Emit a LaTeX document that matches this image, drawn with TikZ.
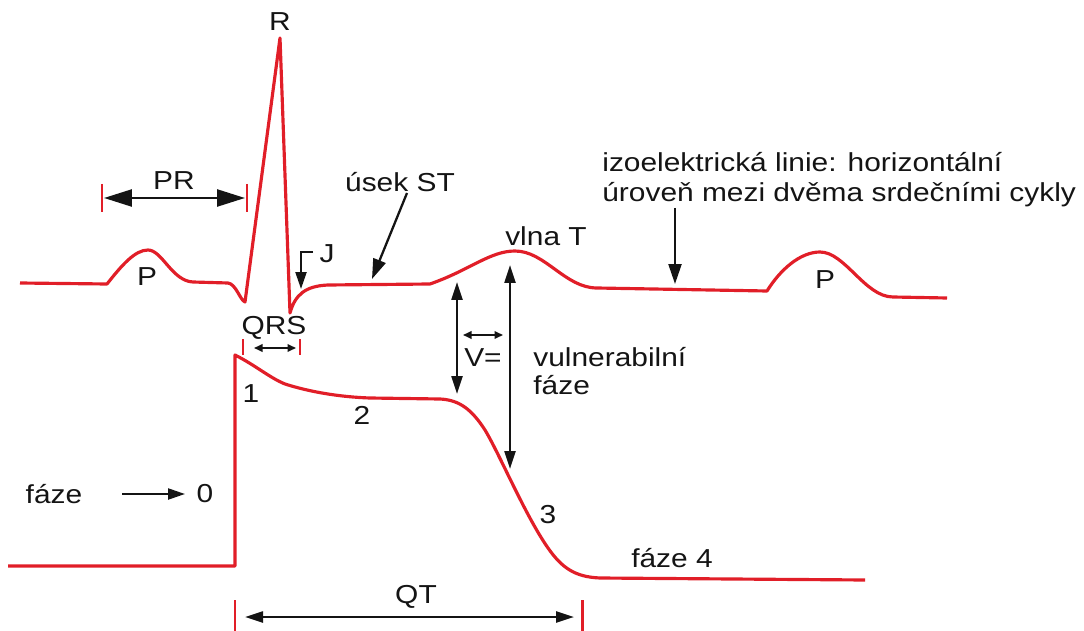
\documentclass[tikz,border=0pt]{standalone}
\usepackage{fontspec}
\setmainfont{Liberation Sans}[FakeStretch=1.15]
\usetikzlibrary{arrows.meta,positioning}
\definecolor{ecgred}{RGB}{225,30,40}
\definecolor{inkblack}{RGB}{20,20,20}
\tikzset{
  lbl/.style={inner sep=0pt,font=\fontsize{14.8}{17}\selectfont,text=inkblack},
  ecgline/.style={draw=ecgred,line width=1.8pt,line join=round},
  tickmark/.style={draw=ecgred,line width=1.7pt},
  bigarr/.style={{Triangle[length=0.56cm,width=0.34cm]}-{Triangle[length=0.56cm,width=0.34cm]},line width=1.4pt,color=inkblack},
  arr/.style={-{Triangle[length=0.4cm,width=0.26cm]},line width=1.3pt,color=inkblack},
  dblarr/.style={{Triangle[length=0.36cm,width=0.22cm]}-{Triangle[length=0.36cm,width=0.22cm]},line width=1.3pt,color=inkblack},
  tinyarr/.style={{Triangle[length=0.17cm,width=0.15cm]}-{Triangle[length=0.17cm,width=0.15cm]},line width=1pt,color=inkblack}
}

\begin{document}
\begin{tikzpicture}[x=0.02cm,y=-0.02cm]
  \useasboundingbox (0,0) rectangle (1084,631);

  %% ECG TRACE
  \draw[ecgline] (20,283) -- (107,284) .. controls (122,265) and (135,250) .. (148,250)
    .. controls (162,250) and (172,281) .. (193,282) -- (228,283)
    .. controls (236,284) and (240,300) .. (245,302) -- (280,38) -- (290,313)
    .. controls (295,295) and (305,286) .. (328,285) -- (430,284)
    .. controls (470,270) and (490,251) .. (515,251)
    .. controls (545,251) and (565,288) .. (597,288) -- (767,291)
    .. controls (780,270) and (800,252) .. (820,252)
    .. controls (845,252) and (865,297) .. (893,297) -- (947,298);

  %% ACTION POTENTIAL
  \draw[ecgline] (8,566) -- (235,566) -- (235,355)
    .. controls (255,365) and (270,378) .. (285,384)
    .. controls (310,392) and (340,397) .. (370,398) -- (440,399)
    .. controls (460,400) and (472,410) .. (485,430)
    .. controls (500,455) and (525,515) .. (548,548)
    .. controls (562,568) and (575,577) .. (600,578) -- (865,580);

  %% LABELS
  \node[lbl] (rlbl) at (280,22) {R};
  \node[lbl] (prlbl) at (174,181) {PR};
  \node[lbl] (p1lbl) at (147,277) {P};
  \node[lbl] (jlbl) at (327,254) {J};
  \node[lbl] (qrslbl) at (274,328) {QRS};
  \node[lbl] (stlbl) at (400,182) {úsek ST};
  \node[lbl] (tlbl) at (546,236) {vlna T};
  \node[lbl,align=left,anchor=west]
    (izolbl) at (602,180) {izoelektrická linie: horizontální\\úroveň mezi dvěma srdečními cykly};
  \node[lbl] (p2lbl) at (825,280) {P};
  \node[lbl] (vlbl) at (483,358) {V=};
  \node[lbl,align=left,anchor=west,font=\fontsize{14.8}{15.5}\selectfont]
    (vulnlbl) at (533,371) {vulnerabilní\\fáze};
  \node[lbl] (ph1) at (251,394) {1};
  \node[lbl] (ph2) at (362,415) {2};
  \node[lbl] (ph3) at (548,515) {3};
  \node[lbl] (ph4) at (672,558) {fáze 4};
  \node[lbl] (fazelbl) at (54,494) {fáze};
  \node[lbl] (ph0) at (205,494) {0};
  \node[lbl] (qtlbl) at (416,597) {QT};

  %% ARROW END POINTS
  \coordinate (pr_l) at (104,198);
  \coordinate (pr_r) at (245,198);
  \coordinate (j_tail) at (313,252);
  \coordinate (j_tip) at (301,289);
  \coordinate (qrs_l) at (254,348);
  \coordinate (qrs_r) at (296,348);
  \coordinate (st_tail) at (407,193);
  \coordinate (st_tip) at (372,279);
  \coordinate (vl_top) at (457,282);
  \coordinate (vl_bot) at (457,394);
  \coordinate (vr_top) at (510,265);
  \coordinate (vr_bot) at (510,469);
  \coordinate (v_l) at (463,335);
  \coordinate (v_r) at (503,335);
  \coordinate (izo_tail) at (675,208);
  \coordinate (izo_tip) at (675,284);
  \coordinate (f0_tail) at (122,494);
  \coordinate (f0_tip) at (185,494);
  \coordinate (qt_l) at (245,617);
  \coordinate (qt_r) at (574,617);

  %% CONNECTIONS
  \draw[bigarr] (pr_l) -- (pr_r);
  \draw[arr,-{Triangle[length=0.34cm,width=0.22cm]}] (j_tail) -| (j_tip);
  \draw[tinyarr] (qrs_l) -- (qrs_r);
  \draw[arr] (st_tail) -- (st_tip);
  \draw[dblarr] (vl_top) -- (vl_bot);
  \draw[dblarr] (vr_top) -- (vr_bot);
  \draw[tinyarr] (v_l) -- (v_r);
  \draw[arr] (izo_tail) -- (izo_tip);
  \draw[arr,-{Triangle[length=0.34cm,width=0.22cm]}] (f0_tail) -- (f0_tip);
  \draw[dblarr] (qt_l) -- (qt_r);

  %% RED TICKS
  \draw[tickmark] (102,184) -- (102,212);
  \draw[tickmark] (247,184) -- (247,212);
  \draw[tickmark] (243,339) -- (243,355);
  \draw[tickmark] (300,339) -- (300,355);
  \draw[tickmark] (235,600) -- (235,631);
  \draw[tickmark] (582,600) -- (582,631);
\end{tikzpicture}
\end{document}
